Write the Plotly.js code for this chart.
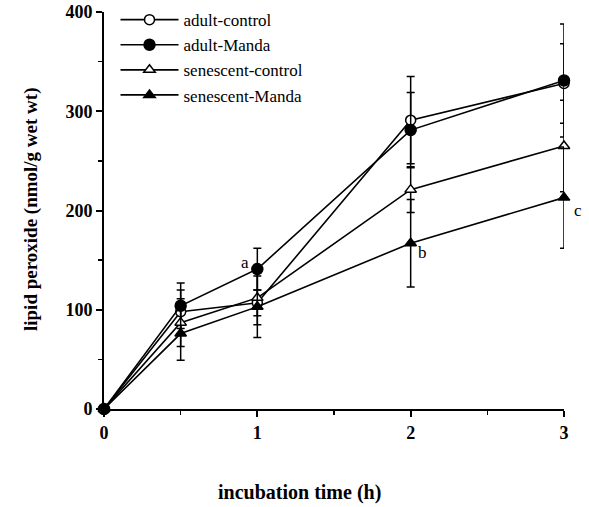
<!DOCTYPE html>
<html><head><meta charset="utf-8">
<script src="https://cdn.plot.ly/plotly-3.0.1.min.js"></script>
<style>html,body{margin:0;padding:0;background:#fff}#chart{width:589px;height:507px}</style>
</head><body><div id="chart"></div>
<script>
const times = [0, 0.5, 1, 2, 3];
const seriesNames = ["adult-control", "adult-Manda", "senescent-control", "senescent-Manda"];
const adultControl = [0, 98, 107, 291, 328];
const adultManda = [0, 104, 141, 281, 331];
const senescentControl = [0, 87, 112, 221, 265];
const senescentManda = [0, 76, 103, 167, 213];
const adultControlErr = [0, 22, 13, 44, 40];
const adultMandaErr = [0, 23, 21, 38, 57];
const senescentControlErr = [0, 24, 27, 23, 46];
const senescentMandaErr = [0, 27, 31, 44, 51];
const letterLabels = ["a", "b", "c"];
const letterX = [1, 2, 3];
const letterY = [148, 158, 200];
const letterShift = [-12, 12, 14];

const values = [adultControl, adultManda, senescentControl, senescentManda];
const errs = [adultControlErr, adultMandaErr, senescentControlErr, senescentMandaErr];
const symbols = ["circle", "circle", "triangle-up", "triangle-up"];
const fills = ["#ffffff", "#000000", "#ffffff", "#000000"];
const sizes = [10, 11, 10, 10];

const traces = values.map((v, i) => ({
  x: times, y: v, name: seriesNames[i], type: "scatter", mode: "lines+markers",
  line: {color: "#000", width: 1.6},
  marker: {symbol: symbols[i], size: sizes[i], color: fills[i], line: {color: "#000", width: 1.5}},
  error_y: {type: "data", array: errs[i], visible: true, color: "#000", thickness: 1.5, width: 4},
  cliponaxis: false
}));

const font = "Liberation Serif, Times New Roman, serif";
const annotations = letterLabels.map((t, i) => ({
  x: letterX[i], y: letterY[i], xref: "x", yref: "y", xshift: letterShift[i], text: t, showarrow: false,
  font: {family: font, size: 17, color: "#000000"}
}));
annotations.push({x: (299 - 104) / 460, y: -(492 - 409) / 397, xref: "paper", yref: "paper",
  xanchor: "center", yanchor: "middle",
  text: "<b>incubation time (h)</b>", showarrow: false,
  font: {family: font, size: 20, color: "#000"}});
annotations.push({x: -(104 - 31) / 460, y: (409 - 210) / 397, xref: "paper", yref: "paper",
  xanchor: "center", yanchor: "middle", textangle: -90,
  text: "<b>lipid peroxide (nmol/g wet wt)</b>", showarrow: false,
  font: {family: font, size: 19, color: "#000"}});

const layout = {
  width: 589, height: 507,
  margin: {l: 104, r: 25, t: 12, b: 98, autoexpand: false},
  paper_bgcolor: "#fff", plot_bgcolor: "#fff",
  font: {family: font, color: "#000"},
  showlegend: true,
  legend: {x: 0.025, y: 1.025, xanchor: "left", yanchor: "top", bgcolor: "rgba(0,0,0,0)",
    font: {family: font, size: 17, color: "#000"}, tracegroupgap: 0, itemwidth: 58},
  xaxis: {range: [0, 3], tickvals: [0, 1, 2, 3], ticktext: ["<b>0</b>", "<b>1</b>", "<b>2</b>", "<b>3</b>"],
    showgrid: false, zeroline: false, showline: true, linecolor: "#000", linewidth: 2,
    ticks: "outside", ticklen: 6, tickwidth: 2, tickcolor: "#000",
    minor: {tickvals: [0.5, 1.5, 2.5], ticks: "outside", ticklen: 4, tickwidth: 1.5, tickcolor: "#000"},
    tickfont: {family: font, size: 18, color: "#000"}},
  yaxis: {range: [0, 400], tickvals: [0, 100, 200, 300, 400], ticktext: ["<b>0</b>", "<b>100</b>", "<b>200</b>", "<b>300</b>", "<b>400</b>"],
    showgrid: false, zeroline: false, showline: true, linecolor: "#000", linewidth: 2,
    ticks: "outside", ticklen: 6, tickwidth: 2, tickcolor: "#000",
    minor: {tickvals: [50, 150, 250, 350], ticks: "outside", ticklen: 4, tickwidth: 1.5, tickcolor: "#000"},
    tickfont: {family: font, size: 18, color: "#000"}},
  annotations: annotations
};
Plotly.newPlot("chart", traces, layout, {displayModeBar: false, staticPlot: true});
</script></body></html>
